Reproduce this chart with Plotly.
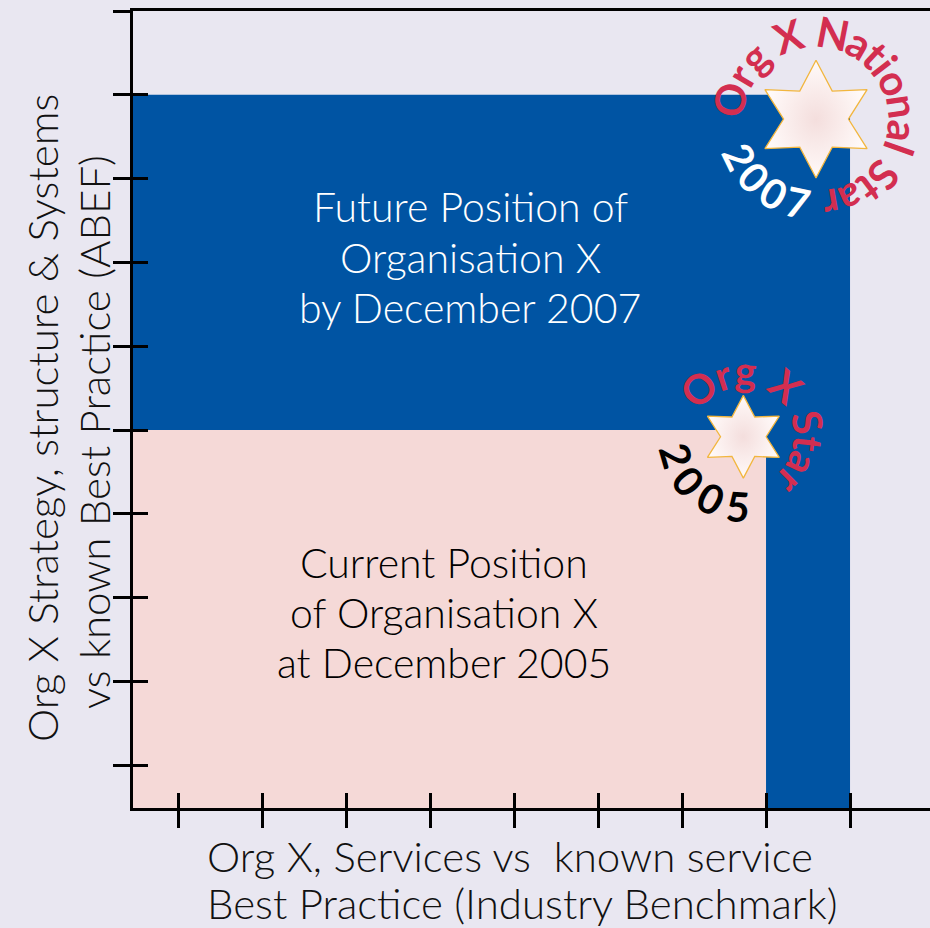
import math
import plotly.graph_objects as go

# axis extents in tick units
X_MIN, X_MAX = 0.464, 9.952
Y_MIN, Y_MAX = 0.49, 10.0
x_ticks = list(range(1, 10))
y_ticks = list(range(1, 11))

# coloured regions (rectangles in tick units)
region_names = ["Current position", "Future position", "Future position (services)"]
region_x0 = [X_MIN, X_MIN, 8]
region_x1 = [8, 9, 9]
region_y0 = [Y_MIN, 5, Y_MIN]
region_y1 = [5, 9, 5]

# stars
star_years = ["2005", "2007"]
star_labels = ["Org X Star", "Org X National Star"]
star_x = [7.73, 8.595]
star_y = [4.92, 8.71]

current_text = ["Current Position", "of Organisation X", "at December 2005"]
future_text = ["Future Position of", "Organisation X", "by December 2007"]
x_title = ["Org X, Services vs  known service", "Best Practice (Industry Benchmark)"]
y_title = ["Org X Strategy, structure & Systems", "vs known Best Practice (ABEF)"]

BLUE = "#0054A3"
PINK = "#F5D9D7"
BG = "#E9E7F1"
RED = "#D32E50"
FONT = "Lato"
PX = 84.0  # pixels per tick unit
L, T, PW, PH = 133, 11, 797, 797  # plot area in page pixels

region_colors = [PINK, BLUE, BLUE]
star_radius_px = [41.5, 59]

fig = go.Figure()

for name, x0, x1, y0, y1, c in zip(region_names, region_x0, region_x1,
                                   region_y0, region_y1, region_colors):
    fig.add_trace(go.Scatter(
        x=[x0, x1, x1, x0, x0], y=[y0, y0, y1, y1, y0],
        fill="toself", fillcolor=c, mode="none", name=name,
        hoverinfo="skip",
    ))

# six-pointed stars drawn as polygons round each star centre
for cx, cy, r in zip(star_x, star_y, star_radius_px):
    xs, ys = [], []
    for k in range(13):
        rr = r if k % 2 == 0 else r * 0.55
        a = math.radians(90 + 30 * k)
        xs.append(cx + rr * math.cos(a) / PX)
        ys.append(cy + rr * math.sin(a) / PX)
    fig.add_trace(go.Scatter(
        x=xs, y=ys, mode="lines", fill="toself",
        fillgradient=dict(type="radial",
                          colorscale=[[0, "#F4DEDD"], [1, "#FFFAF9"]]),
        line=dict(color="#F2B63E", width=1.3), hoverinfo="skip",
    ))

# dummy trace so the inside-tick axes render
fig.add_trace(go.Scatter(x=[X_MIN], y=[Y_MIN], xaxis="x2", yaxis="y2",
                         mode="none", hoverinfo="skip"))

# rough glyph widths (em) for spacing letters along an arc
W = {"O": .78, "r": .40, "g": .58, " ": .30, "X": .64, "N": .74, "a": .53,
     "t": .37, "i": .26, "o": .58, "n": .56, "l": .26, "S": .52}


def arc_text(text, cx, cy, r, a0, a1, outward, color, size):
    w = [W.get(ch, .56) for ch in text]
    pos = [sum(w[:i]) + w[i] / 2 for i in range(len(text))]
    span = pos[-1] - pos[0]
    for ch, p in zip(text, pos):
        if ch == " ":
            continue
        th = a0 + (a1 - a0) * (p - pos[0]) / span
        rad = math.radians(th)
        ang = (90 - th) if outward else (270 - th)
        ang = (ang + 180) % 360 - 180
        fig.add_annotation(
            x=cx + r * math.cos(rad) / PX, y=cy + r * math.sin(rad) / PX,
            text=ch, showarrow=False, textangle=ang,
            xanchor="center", yanchor="middle",
            font=dict(family=FONT, size=size, color=color, weight="bold"),
        )


# 2005 star
arc_text(star_labels[0], star_x[0], star_y[0], 66, 133, -45, True, RED, 41)
arc_text(star_years[0], star_x[0], star_y[0], 70, 196, 266, False, "black", 41)
# 2007 star
arc_text(star_labels[1], star_x[1], star_y[1], 88, 167, -80, True, RED, 42)
arc_text(star_years[1], star_x[1], star_y[1], 85, 206, 258, False, "white", 41)


def px_note(px, py, text, size, color="#111111", angle=0, xanchor="center"):
    fig.add_annotation(
        x=(px - L) / PW, y=(T + PH - py) / PH, xref="paper", yref="paper",
        text=text, showarrow=False, textangle=angle,
        xanchor=xanchor, yanchor="middle",
        font=dict(family=FONT, size=size, color=color, weight=300),
    )


for i, t in enumerate(current_text):
    px_note(444, 562 + 50 * i, t, 41, "black")
for i, t in enumerate(future_text):
    px_note(470, 207 + 50 * i, t, 41, "white")
for i, t in enumerate(x_title):
    px_note(205, 856 + 47 * i, t, 42, xanchor="left")
for i, t in enumerate(y_title):
    px_note(42 + 52 * i, 418 + 14 * i, t, 42, angle=-90)

axis_common = dict(showgrid=False, zeroline=False, showticklabels=False,
                   tickwidth=3, tickcolor="black")
fig.update_layout(
    width=930, height=928,
    margin=dict(l=L, r=930 - L - PW, t=T, b=928 - T - PH),
    paper_bgcolor=BG, plot_bgcolor=BG,
    showlegend=False,
    xaxis=dict(range=[X_MIN, X_MAX], tickvals=x_ticks, ticks="outside", ticklen=17,
               showline=True, linewidth=3, linecolor="black", mirror=True,
               **axis_common),
    yaxis=dict(range=[Y_MIN, Y_MAX], tickvals=y_ticks, ticks="outside", ticklen=17,
               showline=True, linewidth=3, linecolor="black", **axis_common),
    xaxis2=dict(range=[X_MIN, X_MAX], tickvals=x_ticks, ticks="inside", ticklen=15,
                overlaying="x", anchor="y", side="bottom", showline=False,
                **axis_common),
    yaxis2=dict(range=[Y_MIN, Y_MAX], tickvals=y_ticks, ticks="inside", ticklen=15,
                overlaying="y", anchor="x", side="left", showline=False,
                **axis_common),
)

fig.write_html("out.html", config={"displayModeBar": False},
               post_script="document.body.style.margin='0';")
